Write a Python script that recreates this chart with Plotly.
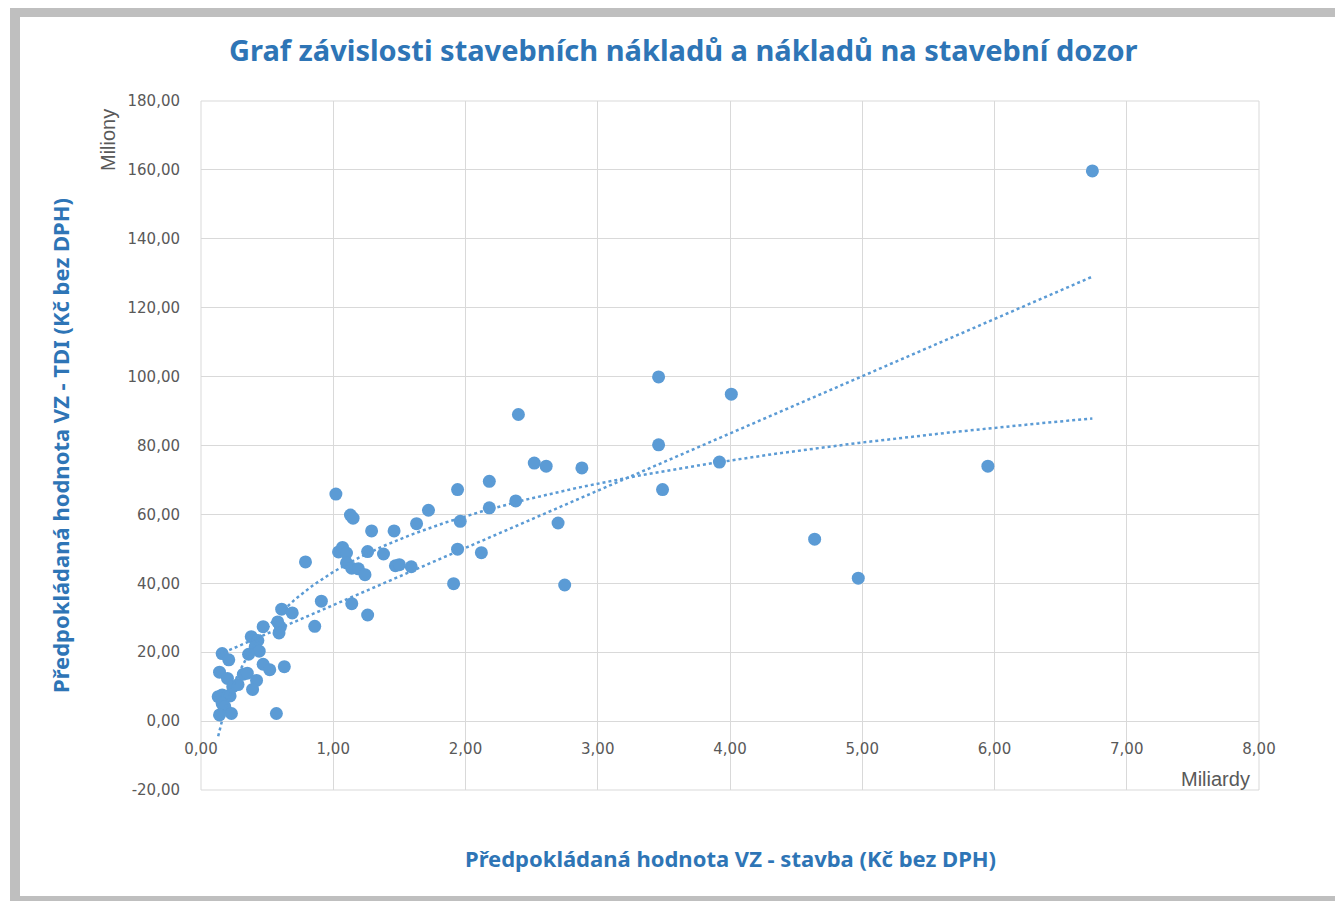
import numpy as np
import plotly.graph_objects as go

# ---- data (x in miliardy Kč, y in miliony Kč) ----
stavba_mld = [
    0.13, 0.16, 0.20, 0.22, 0.16, 0.18, 0.14, 0.23, 0.14, 0.20, 0.24, 0.28,
    0.32, 0.35, 0.42, 0.39, 0.16, 0.21, 0.47, 0.52, 0.63, 0.57, 0.38, 0.43,
    0.41, 0.44, 0.36, 0.47, 0.58, 0.60, 0.59, 0.61, 0.69, 0.86, 0.79, 0.91,
    1.02, 1.13, 1.15, 1.04, 1.07, 1.10, 1.10, 1.14, 1.19, 1.24, 1.26, 1.29,
    1.38, 1.46, 1.47, 1.50, 1.59, 1.63, 1.72, 1.14, 1.26, 1.91, 1.94, 1.96,
    1.94, 2.12, 2.18, 2.18, 2.38, 2.40, 2.52, 2.61, 2.70, 2.75, 2.88, 3.46,
    3.46, 3.49, 3.92, 4.01, 4.64, 4.97, 5.95, 6.74,
]
tdi_mil = [
    7.1, 7.6, 7.3, 7.3, 5.1, 4.2, 1.8, 2.2, 14.2, 12.4, 10.0, 10.6,
    13.6, 13.9, 11.8, 9.2, 19.6, 17.8, 16.5, 14.9, 15.8, 2.2, 24.5, 23.4,
    21.6, 20.3, 19.4, 27.4, 28.8, 27.3, 25.6, 32.5, 31.4, 27.5, 46.2, 34.8,
    65.9, 59.8, 58.9, 49.1, 50.4, 48.8, 45.9, 44.4, 44.2, 42.5, 49.2, 55.2,
    48.5, 55.2, 45.1, 45.4, 44.8, 57.3, 61.2, 34.1, 30.8, 39.9, 67.2, 58.0,
    49.9, 48.9, 69.6, 61.9, 63.9, 89.0, 74.9, 74.0, 57.5, 39.5, 73.5, 99.9,
    80.2, 67.2, 75.2, 94.9, 52.8, 41.5, 74.0, 159.7,
]
x_ticks = [0, 1, 2, 3, 4, 5, 6, 7, 8]
y_ticks = [-20, 0, 20, 40, 60, 80, 100, 120, 140, 160, 180]


def fmt(v):
    return f"{v:.2f}".replace(".", ",")


x_ticktext = [fmt(v) for v in x_ticks]
y_ticktext = [fmt(v) for v in y_ticks]

TITLE = "Graf závislosti stavebních nákladů a nákladů na stavební dozor"
X_TITLE = "Předpokládaná hodnota VZ - stavba (Kč bez DPH)"
Y_TITLE = "Předpokládaná hodnota VZ - TDI (Kč bez DPH)"

# ---- layout geometry (page has an 8px body margin) ----
OFF = 8
W, H = 1343 - OFF, 901 - OFF
PLOT_L, PLOT_R, PLOT_T, PLOT_B = 201, 1259, 101, 790  # in page pixels
L, T = PLOT_L - OFF, PLOT_T - OFF
R, B = W - (PLOT_R - OFF), H - (PLOT_B - OFF)
PW, PH = W - L - R, H - T - B


def px2x(px):
    return (px - OFF - L) / PW


def py2y(py):
    return (H - B - (py - OFF)) / PH


BLUE = "#5B9BD5"
TITLE_BLUE = "#2E75B6"
GRID = "#D9D9D9"
TXT = "#595959"
FRAME = "#BFBFBF"

xs = np.array(stavba_mld)
ys = np.array(tdi_mil)

# trendlines fitted from the data (linear and logarithmic, as Excel does)
lin = np.polyfit(xs, ys, 1)
logc = np.polyfit(np.log(xs), ys, 1)
xt = np.linspace(xs.min(), xs.max(), 300)

fig = go.Figure()
fig.add_trace(go.Scatter(
    x=xs, y=ys, mode="markers",
    marker=dict(color=BLUE, size=13, line=dict(width=0)),
    showlegend=False, hoverinfo="x+y",
))
fig.add_trace(go.Scatter(
    x=xt, y=np.polyval(lin, xt), mode="lines",
    line=dict(color=BLUE, width=2.5, dash="dot"), showlegend=False,
))
fig.add_trace(go.Scatter(
    x=xt, y=np.polyval(logc, np.log(xt)), mode="lines",
    line=dict(color=BLUE, width=2.5, dash="dot"), showlegend=False,
))

fig.update_layout(
    width=W, height=H, autosize=False,
    margin=dict(l=L, r=R, t=T, b=B, pad=0),
    paper_bgcolor="white", plot_bgcolor="white",
    font=dict(family="Noto Sans", color=TXT, size=14),
    showlegend=False,
    xaxis=dict(
        range=[0, 8], tickvals=x_ticks, ticktext=x_ticktext,
        showgrid=True, gridcolor=GRID, gridwidth=1, zeroline=False,
        showline=False, anchor="free", position=0.1,
        ticks="outside", ticklen=14, tickcolor="rgba(0,0,0,0)",
        tickfont=dict(family="DejaVu Sans", size=15, color=TXT),
    ),
    yaxis=dict(
        range=[-20, 180], tickvals=y_ticks, ticktext=y_ticktext,
        showgrid=True, gridcolor=GRID, gridwidth=1, zeroline=False,
        showline=False,
        ticks="outside", ticklen=17, tickcolor="rgba(0,0,0,0)",
        tickfont=dict(family="DejaVu Sans", size=15, color=TXT),
    ),
)

shapes = [
    # plot border (same as gridlines)
    dict(type="rect", xref="paper", yref="paper", x0=0, x1=1, y0=0, y1=1,
         line=dict(color=GRID, width=1), layer="below"),
    # gray frame around the chart
    dict(type="rect", xref="paper", yref="paper",
         x0=px2x(10), x1=px2x(1350), y0=py2y(17), y1=py2y(7),
         fillcolor=FRAME, line=dict(width=0)),
    dict(type="rect", xref="paper", yref="paper",
         x0=px2x(10), x1=px2x(20), y0=py2y(905), y1=py2y(7),
         fillcolor=FRAME, line=dict(width=0)),
    dict(type="rect", xref="paper", yref="paper",
         x0=px2x(10), x1=px2x(1350), y0=py2y(905), y1=py2y(896),
         fillcolor=FRAME, line=dict(width=0)),
]
fig.update_layout(shapes=shapes)

annotations = [
    dict(text=f"<b>{TITLE}</b>", x=px2x(683), y=py2y(50), xref="paper", yref="paper",
         showarrow=False, xanchor="center", yanchor="middle",
         font=dict(family="Noto Sans", size=29, color=TITLE_BLUE)),
    dict(text=f"<b>{X_TITLE}</b>", x=px2x(730), y=py2y(858), xref="paper", yref="paper",
         showarrow=False, xanchor="center", yanchor="middle",
         font=dict(family="Noto Sans", size=22, color=TITLE_BLUE)),
    dict(text=f"<b>{Y_TITLE}</b>", x=px2x(60), y=py2y(446), xref="paper", yref="paper",
         showarrow=False, xanchor="center", yanchor="middle", textangle=-90,
         font=dict(family="Noto Sans", size=22, color=TITLE_BLUE)),
    dict(text="Miliony", x=px2x(108), y=py2y(140), xref="paper", yref="paper",
         showarrow=False, xanchor="center", yanchor="middle", textangle=-90,
         font=dict(family="Liberation Sans", size=20, color=TXT)),
    dict(text="Miliardy", x=px2x(1215), y=py2y(779), xref="paper", yref="paper",
         showarrow=False, xanchor="center", yanchor="middle",
         font=dict(family="Liberation Sans", size=20, color=TXT)),
]
fig.update_layout(annotations=annotations)

fig.write_html("out.html")
